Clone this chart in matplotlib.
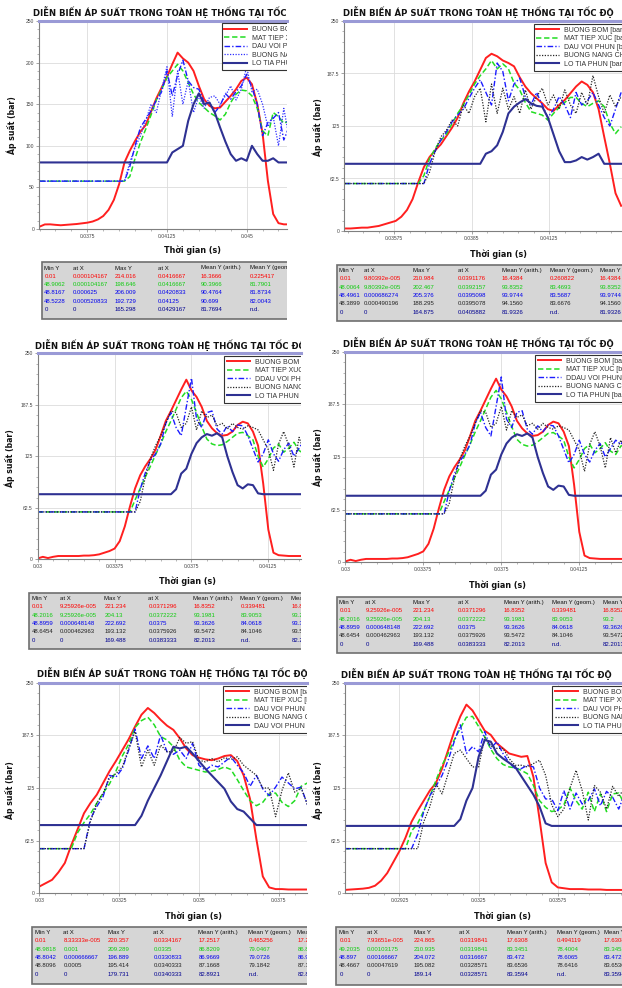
import numpy as np
import matplotlib
matplotlib.use("Agg")
import matplotlib.pyplot as plt
from matplotlib.patches import Rectangle
from matplotlib.ticker import FixedLocator, FuncFormatter, AutoMinorLocator
from matplotlib.transforms import Bbox, TransformedBbox

plt.rcParams["font.family"] = ["Liberation Sans", "DejaVu Sans"]

# ---------------- dữ liệu: thời gian (ms), áp suất (bar) ----------------
# Panel 1
t1 = np.linspace(35.25, 47.0, 48)
bom_1 = [2.8, 5.5, 5.6, 5, 4.5, 5, 5.5, 6, 6.8, 7.6,
         9, 11.5, 15.6, 23, 35, 54, 80, 94, 106, 117,
         125, 141, 157, 170, 183, 198, 212, 205, 200, 190,
         172, 156, 148, 145, 146, 153, 160, 168, 178, 182,
         174, 150, 115, 58, 18, 7, 5.6, 5.6]
mat_1 = [57.5] * 17 + [63, 85, 104, 120, 137, 155, 168, 182, 190, 198, 190, 176, 162, 152, 146, 140,
                       136, 131, 138, 152, 162, 167, 166, 160, 145, 118, 112, 140, 135, 127, 130]
dau_1 = [57.5] * 17 + [75, 100, 122, 132, 142, 155, 165, 190, 160, 185, 203, 178, 170, 168, 152, 152,
                       140, 148, 163, 156, 165, 172, 186, 170, 150, 112, 128, 133, 140, 107, 123]
nang_1 = [57.5] * 17 + [80, 98, 112, 130, 150, 140, 168, 195, 135, 190, 150, 178, 140, 160, 145, 158,
                        160, 150, 160, 172, 155, 168, 195, 165, 168, 150, 123, 135, 100, 145, 110]
lo_1 = [80] * 25 + [92, 96, 100, 130, 150, 163, 150, 152, 140, 122, 105, 90, 82, 85, 82, 100,
                    90, 82, 82, 85, 80, 80, 80]

# Panel 2
t2 = np.linspace(34.0, 43.8, 50)
bom_2 = [3, 3, 3.5, 4, 4, 5, 6, 8, 10, 12,
         17, 25, 38, 58, 76, 88, 96, 103, 113, 123,
         135, 152, 166, 178, 192, 206, 211, 208, 203, 200,
         196, 183, 172, 164, 158, 152, 145, 143, 150, 156,
         164, 172, 178, 174, 165, 145, 112, 80, 45, 30]
mat_2 = [56.5] * 14 + [66, 86, 98, 108, 115, 128, 140, 150, 162, 175, 185, 193, 203, 193, 199, 193, 176, 168,
                       153, 142, 140, 138, 132, 140, 147, 153, 159, 159, 152, 148, 152, 155, 148, 128, 116, 124]
dau_2 = [56.5] * 15 + [80, 95, 108, 118, 130, 138, 145, 158, 170, 180, 165, 150, 200, 190, 155, 175, 182, 160,
                       150, 165, 150, 135, 145, 160, 150, 135, 165, 150, 155, 165, 150, 135, 125, 145, 165]
nang_2 = [56.5] * 15 + [70, 95, 112, 120, 132, 125, 150, 140, 160, 170, 130, 175, 140, 170, 145, 160, 140, 168,
                        145, 160, 170, 150, 162, 145, 168, 150, 140, 165, 150, 185, 160, 140, 162, 148, 160]
lo_2 = [80] * 25 + [92, 95, 102, 118, 140, 148, 153, 157, 152, 149, 148, 135, 115, 95, 82, 82, 84, 88,
                    85, 88, 92, 80, 80, 80, 80]

# Panel 3 (panel 4 là cùng một hình)
t3 = np.linspace(30.0, 43.5, 55)
bom_3 = [1, 3, 1.5, 3, 4, 4, 4, 4, 4, 4.5,
         4.5, 5, 6, 8, 10, 13, 22, 40, 64, 86,
         102, 113, 122, 133, 150, 168, 180, 193, 206, 218,
         205, 197, 185, 168, 159, 153, 150, 151, 155, 163,
         167, 165, 155, 138, 92, 36, 8, 5, 4.5, 4,
         4, 4, 4, 4, 4]
mat_3 = [57.5] * 19 + [72, 86, 100, 113, 127, 140, 155, 168, 182, 196, 204, 194, 178, 161, 146, 140, 138, 139,
                       143, 148, 153, 154, 150, 145, 125, 112, 122, 135, 140, 130, 135, 142, 132, 128, 138, 140]
dau_3 = [57.5] * 20 + [85, 105, 120, 128, 140, 165, 178, 160, 150, 185, 220, 170, 160, 178, 180, 158, 152, 162,
                       155, 163, 162, 150, 134, 118, 128, 145, 128, 119, 133, 141, 125, 135, 145, 140, 150]
nang_3 = [57.5] * 20 + [70, 100, 122, 138, 150, 165, 180, 178, 160, 165, 185, 157, 180, 172, 175, 162, 165, 158,
                        165, 160, 158, 162, 160, 157, 145, 133, 108, 140, 155, 138, 112, 148, 130, 145, 135]
lo_3 = [79] * 27 + [85, 104, 110, 128, 141, 148, 152, 150, 153, 148, 125, 106, 90, 86, 91, 90, 80] + [79] * 11

# Panel 5
t5 = np.linspace(30.0, 38.4, 43)
bom_5 = [8, 12, 16, 25, 36, 57, 76, 95, 107, 117,
         131, 145, 157, 170, 183, 198, 212, 220, 214, 206,
         199, 194, 184, 172, 164, 161, 159, 158, 160, 163,
         164, 157, 140, 112, 64, 20, 7, 5, 5, 4.5,
         4.5, 4.5, 4.5]
mat_5 = [53] * 6 + [72, 84, 94, 107, 119, 130, 145, 163, 177, 197, 205, 209, 200, 186, 182, 174, 158, 150, 148,
                    146, 144, 145, 147, 150, 147, 135, 122, 110, 104, 108, 118, 119, 108, 103, 110, 127, 131]
dau_5 = [53] * 8 + [88, 103, 115, 140, 138, 148, 170, 195, 160, 175, 160, 188, 168, 165, 170, 160, 178, 152,
                    146, 152, 150, 156, 162, 152, 143, 127, 140, 124, 116, 126, 138, 131, 124, 126, 105]
nang_5 = [53] * 8 + [85, 107, 119, 137, 142, 150, 172, 192, 150, 170, 152, 176, 168, 168, 185, 178, 180, 158,
                     156, 160, 156, 161, 159, 162, 152, 146, 140, 125, 125, 91, 122, 143, 120, 125, 105]
lo_5 = [81] * 16 + [92, 110, 125, 140, 157, 174, 172, 174, 166, 157, 148, 140, 132, 124, 109, 100, 97, 89,
                    81] + [81] * 8

# Panel 6
t6 = np.linspace(27.0, 38.5, 47)
bom_6 = [4, 4.5, 5, 5.5, 6.5, 9, 15, 24, 37, 50,
         66, 85, 98, 110, 122, 131, 148, 170, 192, 210,
         224, 217, 205, 193, 188, 178, 172, 166, 164, 162,
         163, 138, 88, 36, 13, 7, 6, 5, 5, 5,
         4.5, 4.5, 4.5, 4, 4, 4, 4]
mat_6 = [53] * 11 + [74, 83, 98, 115, 134, 152, 166, 182, 196, 209, 210, 198, 186, 171, 160, 153, 150, 149,
                     146, 142, 128, 110, 102, 97, 99, 105, 125, 110, 100, 120, 97, 118, 97, 118, 119, 105]
dau_6 = [53] * 12 + [70, 97, 116, 127, 140, 158, 180, 200, 166, 174, 168, 192, 172, 180, 166, 155, 148, 148,
                     152, 150, 125, 112, 112, 98, 122, 100, 119, 106, 110, 124, 104, 121, 114, 100, 119]
nang_6 = [53] * 13 + [85, 103, 130, 118, 142, 166, 170, 160, 150, 150, 185, 175, 172, 172, 160, 152, 152, 150,
                      154, 158, 140, 105, 91, 100, 125, 146, 122, 87, 128, 120, 100, 127, 115, 125]
lo_6 = [80] * 19 + [88, 110, 125, 162, 182, 180, 166, 160, 155, 150, 139, 128, 117, 103, 83] + [80] * 13

# nhãn chú thích
nhan_1 = ["BUONG BOM [bar]", "MAT TIEP XUC [bar]", "DAU VOI PHUN [bar]", "BUONG NANG CHAN KIM [bar]", "LO TIA PHUN [bar]"]
nhan_3 = ["BUONG BOM [bar]", "MAT TIEP XUC [bar]", "DDAU VOI PHUN [bar]", "BUONG NANG CHAN KIM [bar]", "LO TIA PHUN [bar]"]
nhan_5 = ["BUONG BOM [bar]", "MAT TIEP XUC [bar]", "DAU VOI PHUN [bar]", "BUONG NANG CHAN KIM [bar]", "DAU VOI PHUN [bar]"]

# vạch chia
xt_1 = [0.0375, 0.04125, 0.045]
xt_2 = [0.03575, 0.0385, 0.04125]
xt_3 = [0.03, 0.03375, 0.0375, 0.04125]
xt_5 = [0.03, 0.0325, 0.035, 0.0375]
xt_6 = [0.02925, 0.0325, 0.03575]
yt_a = [0, 50, 100, 150, 200, 250]
yt_b = [0, 62.5, 125, 187.5, 250]

# bảng thống kê
cot_bang = ["Min Y", "at X", "Max Y", "at X", "Mean Y (arith.)", "Mean Y (geom.)", "Mean Y (harm.)"]
bang_1 = [["0.01", "0.000104167", "214.016", "0.0416667", "16.3666", "0.225417", "16.3666"],
          ["48.9062", "0.000104167", "198.646", "0.0416667", "90.3966", "81.7901", "90.3966"],
          ["48.8167", "0.000625", "206.009", "0.0420833", "90.4764", "81.8734", "90.4764"],
          ["48.5228", "0.000520833", "192.729", "0.04125", "90.699", "82.0043", "90.699"],
          ["0", "0", "165.298", "0.0429167", "81.7694", "n.d.", "81.7694"]]
bang_2 = [["0.01", "9.80392e-005", "210.984", "0.0391176", "16.4384", "0.260822", "16.4384"],
          ["48.0064", "9.80392e-005", "202.467", "0.0392157", "93.8352", "83.4693", "93.8352"],
          ["48.4961", "0.000686274", "205.376", "0.0395098", "93.9744", "83.5687", "93.9744"],
          ["48.3899", "0.000490196", "188.295", "0.0395078", "94.1560", "83.6676", "94.1560"],
          ["0", "0", "164.875", "0.0405882", "81.9326", "n.d.", "81.9326"]]
bang_3 = [["0.01", "9.25926e-005", "221.234", "0.0371296", "16.8352", "0.339481", "16.8352"],
          ["48.2016", "9.25926e-005", "204.13", "0.0372222", "93.1981", "83.9053", "93.2"],
          ["48.8959", "0.000648148", "222.692", "0.0375", "93.3626", "84.0618", "93.3626"],
          ["48.6454", "0.000462963", "193.132", "0.0375926", "93.5472", "84.1046", "93.5472"],
          ["0", "0", "169.488", "0.0383333", "82.2013", "n.d.", "82.2013"]]
bang_5 = [["0.01", "8.33333e-005", "220.357", "0.0334167", "17.2517", "0.465256", "17.2517"],
          ["48.9818", "0.001", "209.289", "0.0335", "86.8209", "79.0467", "86.8209"],
          ["48.8042", "0.000666667", "196.889", "0.0330833", "86.9669", "79.0726", "86.9669"],
          ["48.8096", "0.0005", "195.414", "0.0340333", "87.1668", "79.1842", "87.1668"],
          ["0", "0", "179.731", "0.0340333", "82.8921", "n.d.", "82.8921"]]
bang_6 = [["0.01", "7.93651e-005", "224.865", "0.0319841", "17.6308", "0.494119", "17.6308"],
          ["49.2035", "0.00103175", "210.935", "0.0319841", "83.3451", "78.4004", "83.3451"],
          ["48.897", "0.00166667", "204.072", "0.0316667", "83.472", "78.6065", "83.472"],
          ["48.4667", "0.00047619", "195.082", "0.0328571", "83.6536", "78.6416", "83.6536"],
          ["0", "0", "189.14", "0.0328571", "83.3594", "n.d.", "83.3594"]]

TIEU_DE = "DIỄN BIẾN ÁP SUẤT TRONG TOÀN HỆ THỐNG TẠI TỐC ĐỘ"

# ---------------- bố cục (pixel) ----------------
W, H = 622, 988
fig = plt.figure(figsize=(W / 100, H / 100), dpi=100)

kieu = [dict(color="#ff1f1f", lw=1.4, ls="-"),
        dict(color="#22dd22", lw=1.1, ls=(0, (3.5, 1.8))),
        dict(color="#1c1cff", lw=1.0, ls=(0, (4, 1.5, 1, 1.5))),
        dict(color="#262626", lw=0.9, ls=(0, (1, 1.2))),
        dict(color="#2e3192", lw=1.5, ls="-")]
mau_thuong = ["#ff0000", "#10cc10", "#0000ee", "#222222", "#000090"]
mau_xanh = ["#ff0000", "#10cc10", "#0000ee", "#0000ee", "#000090"]

panels = [
    dict(ax=(39.3, 21, 287, 229), x0=35.24, ppm=21.243, title=(33, 12), xl=(193, 250), yl=(12, 125),
         leg=(221.7, 23.3), tab=(42, 262.5, 319), cols=[2.3, 31, 73, 115.5, 159, 208, 257], clip=287),
    dict(ax=(344.3, 21, 622, 231), x0=33.976, ppm=28.18, title=(343, 12), xl=(498.7, 254), yl=(318, 127),
         leg=(533.7, 24), tab=(337, 265, 321), cols=[2.3, 27, 75.6, 120.6, 165, 213, 263], clip=None),
    dict(ax=(37.7, 353.3, 301, 559.3), x0=30.0, ppm=20.5, title=(35, 345), xl=(187.5, 581.7), yl=(10, 458),
         leg=(224, 356), tab=(29.3, 593, 649), cols=[2.4, 30.7, 75, 119, 164, 211, 262], clip=301),
    dict(ax=(345.3, 351.7, 622, 562.3), x0=30.0, ppm=20.8, title=(343, 343.3), xl=(497.7, 585), yl=(318, 457),
         leg=(535, 355), tab=(337, 597, 653), cols=[2.3, 28.3, 75.7, 120.7, 166.7, 214.7, 266], clip=None),
    dict(ax=(39.3, 682.7, 307, 893.3), x0=30.0, ppm=31.93, title=(37, 673.3), xl=(193.3, 916.7), yl=(10, 790),
         leg=(223.3, 686), tab=(32.3, 927, 984), cols=[2.7, 31, 75.4, 121, 166, 216, 265], clip=307),
    dict(ax=(345.3, 682.7, 622, 893.3), x0=27.03, ppm=24.37, title=(341, 674), xl=(502.7, 916.7), yl=(318, 790),
         leg=(552, 686), tab=(336, 927, 985), cols=[3.3, 31, 77.7, 123.3, 171, 221, 268], clip=None),
]

du_lieu = [
    (t1, [bom_1, mat_1, dau_1, nang_1, lo_1], nhan_1, "#3030ff", bang_1, mau_xanh, xt_1, yt_a),
    (t2, [bom_2, mat_2, dau_2, nang_2, lo_2], nhan_1, "#262626", bang_2, mau_thuong, xt_2, yt_b),
    (t3, [bom_3, mat_3, dau_3, nang_3, lo_3], nhan_3, "#262626", bang_3, mau_thuong, xt_3, yt_b),
    (t3, [bom_3, mat_3, dau_3, nang_3, lo_3], nhan_3, "#262626", bang_3, mau_thuong, xt_3, yt_b),
    (t5, [bom_5, mat_5, dau_5, nang_5, lo_5], nhan_5, "#262626", bang_5, mau_thuong, xt_5, yt_b),
    (t6, [bom_6, mat_6, dau_6, nang_6, lo_6], nhan_1, "#262626", bang_6, mau_thuong, xt_6, yt_b),
]

fmt = FuncFormatter(lambda v, p: "%g" % v)


def fy(py):
    return 1 - py / H


for cfg, (t, ys, nhan, mau_cham, bang, mau_hang, xt, yt) in zip(panels, du_lieu):
    L, T, R, B = cfg["ax"]
    ax = fig.add_axes([L / W, fy(B), (R - L) / W, (B - T) / H])
    ts = np.asarray(t) / 1000.0
    for k, (y, lab) in enumerate(zip(ys, nhan)):
        st = dict(kieu[k])
        if k == 3:
            st["color"] = mau_cham
        ax.plot(ts, y, label=lab, **st)
    x1 = cfg["x0"] + (R - L) / cfg["ppm"]
    ax.set_xlim(cfg["x0"] / 1000, x1 / 1000)
    ax.set_ylim(0, 250)
    ax.axhline(250, color="#9a9ad6", lw=2.2, clip_on=False, zorder=5)
    ax.xaxis.set_major_locator(FixedLocator(xt))
    ax.yaxis.set_major_locator(FixedLocator(yt))
    ax.xaxis.set_major_formatter(fmt)
    ax.yaxis.set_major_formatter(fmt)
    ax.xaxis.set_minor_locator(AutoMinorLocator(5))
    ax.yaxis.set_minor_locator(AutoMinorLocator(5))
    ax.grid(True, which="major", color="#dcdcdc", lw=0.6)
    ax.set_axisbelow(True)
    for s in ("top", "right"):
        ax.spines[s].set_visible(False)
    for s in ("left", "bottom"):
        ax.spines[s].set_color("#7f7f7f")
        ax.spines[s].set_linewidth(0.8)
    ax.tick_params(which="major", length=2, width=0.5, colors="#7f7f7f", labelcolor="#444444",
                   labelsize=3.6, pad=1.5)
    ax.tick_params(which="minor", length=1.2, width=0.4, colors="#7f7f7f")

    lx, ly = cfg["leg"]
    leg = ax.legend(loc="upper left", bbox_to_anchor=(lx / W, fy(ly)), bbox_transform=fig.transFigure,
                    fontsize=5.0, frameon=True, fancybox=False, framealpha=1, edgecolor="#333333",
                    borderpad=0.4, labelspacing=0.22, handlelength=3.3, handletextpad=0.7, borderaxespad=0)
    leg.get_frame().set_linewidth(0.8)
    for tx in leg.get_texts():
        tx.set_color("#333333")

    cat = list(leg.findobj())
    cat.append(fig.text(cfg["title"][0] / W, fy(cfg["title"][1]), TIEU_DE, ha="left", va="center",
                        fontsize=6.1, fontweight="bold", family="DejaVu Sans", color="#111111"))
    fig.text(cfg["xl"][0] / W, fy(cfg["xl"][1]), "Thời gian (s)", ha="center", va="center",
             fontsize=5.8, fontweight="bold", family="DejaVu Sans", color="#111111")
    fig.text(cfg["yl"][0] / W, fy(cfg["yl"][1]), "Áp suất (bar)", ha="center", va="center", rotation=90,
             fontsize=5.6, fontweight="bold", family="DejaVu Sans", color="#111111")

    bx, bt, bb = cfg["tab"]
    khung = Rectangle((bx / W, fy(bb)), 320 / W, (bb - bt) / H, transform=fig.transFigure,
                      facecolor="#d6d6d6", edgecolor="#6f6f6f", lw=1.2, zorder=3)
    fig.add_artist(khung)
    cat.append(khung)
    for j, h in enumerate(cot_bang):
        cat.append(fig.text((bx + cfg["cols"][j]) / W, fy(bt + 5.5), h, fontsize=4.3, color="#111111",
                            ha="left", va="center", zorder=4))
    for i, row in enumerate(bang):
        for j, v in enumerate(row):
            cat.append(fig.text((bx + cfg["cols"][j]) / W, fy(bt + 13.8 + 8.35 * i), v, fontsize=4.3,
                                color=mau_hang[i], ha="left", va="center", zorder=4))

    if cfg["clip"] is not None:
        hop = TransformedBbox(Bbox([[0, 0], [cfg["clip"] / W, 1]]), fig.transFigure)
        for a in cat:
            a.set_clip_box(hop)
            a.set_clip_on(True)

fig.savefig("out.png", dpi=100, facecolor="white")
